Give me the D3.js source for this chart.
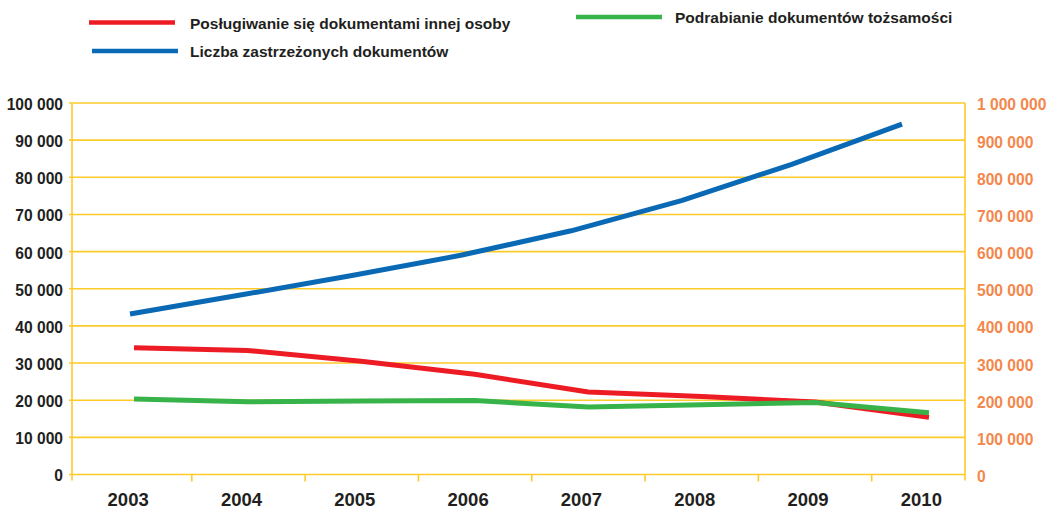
<!DOCTYPE html>
<html>
<head>
<meta charset="utf-8">
<script src="https://cdn.jsdelivr.net/npm/d3@7"></script>
<style>
  body { margin: 0; background: #fff; }
  text { font-family: "Liberation Sans", Arial, sans-serif; font-weight: bold; }
</style>
</head>
<body>
<div id="plot"></div>
<script>
// data
var years = [2003, 2004, 2005, 2006, 2007, 2008, 2009, 2010];
var posługiwanie = [34100, 33400, 30500, 27000, 22200, 21000, 19500, 15400];
var podrabianie = [20300, 19600, 19800, 19900, 18200, 18800, 19400, 16600];
var zastrzezone = [432000, 483000, 535000, 590000, 656000, 737000, 835000, 943000];
var leftTicks = [0, 10000, 20000, 30000, 40000, 50000, 60000, 70000, 80000, 90000, 100000];
var rightTicks = [0, 100000, 200000, 300000, 400000, 500000, 600000, 700000, 800000, 900000, 1000000];

var w = 1048, h = 509;
var padL = 72, padR = 965, padT = 103, padB = 474.5;
var yellow = "#fdcb2a";

var svg = d3.select("#plot").append("svg")
  .attr("width", w)
  .attr("height", h);

var yL = d3.scaleLinear().domain([0, 100000]).range([padB, padT]);
var yR = d3.scaleLinear().domain([0, 1000000]).range([padB, padT]);
// points for red & green
var xP = d3.scalePoint().domain(years).range([134, 929]);
// blue runs a bit shorter in the original
var xB = d3.scalePoint().domain(years).range([130, 902]);
// bands for tick marks under the axis
var xBand = d3.scaleBand().domain(years).range([78.5, 985]);

function fmt(v) {
  return d3.format(",")(v).replace(/,/g, " ");
}

// grid
svg.append("g").selectAll("line")
  .data(leftTicks)
  .enter().append("line")
  .attr("x1", padL - 3).attr("x2", padR)
  .attr("y1", function(d) { return yL(d); })
  .attr("y2", function(d) { return yL(d); })
  .attr("stroke", yellow)
  .attr("stroke-width", 1.6);

// axes lines
svg.append("line").attr("x1", padL).attr("x2", padL).attr("y1", padT).attr("y2", padB + 6)
  .attr("stroke", yellow).attr("stroke-width", 1.6);
svg.append("line").attr("x1", padR).attr("x2", padR).attr("y1", padT).attr("y2", padB + 6)
  .attr("stroke", yellow).attr("stroke-width", 1.6);

// bottom ticks
svg.append("g").selectAll("line")
  .data(years.slice(1))
  .enter().append("line")
  .attr("x1", function(d) { return xBand(d); })
  .attr("x2", function(d) { return xBand(d); })
  .attr("y1", padB).attr("y2", padB + 7)
  .attr("stroke", yellow).attr("stroke-width", 1.6);

// left labels
svg.append("g").selectAll("text")
  .data(leftTicks)
  .enter().append("text")
  .attr("x", 63)
  .attr("y", function(d) { return yL(d) + 1.5; })
  .attr("dy", "0.35em")
  .attr("text-anchor", "end")
  .attr("font-size", "15.6px")
  .attr("fill", "#231f20")
  .text(fmt);

// right labels
svg.append("g").selectAll("text")
  .data(rightTicks)
  .enter().append("text")
  .attr("x", 977)
  .attr("y", function(d) { return yR(d) + 2; })
  .attr("dy", "0.35em")
  .attr("font-size", "15.6px")
  .attr("fill", "#f4874b")
  .text(fmt);

// year labels
svg.append("g").selectAll("text")
  .data(years)
  .enter().append("text")
  .attr("x", function(d) { return xBand(d) + xBand.bandwidth() / 2 - 7; })
  .attr("y", 506)
  .attr("text-anchor", "middle")
  .attr("font-size", "18.5px")
  .attr("fill", "#231f20")
  .text(function(d) { return d; });

// lines
var lineL = d3.line()
  .x(function(d, i) { return xP(years[i]); })
  .y(function(d) { return yL(d); });
var lineB = d3.line()
  .x(function(d, i) { return xB(years[i]); })
  .y(function(d) { return yR(d); });

svg.append("path").datum(zastrzezone)
  .attr("d", lineB)
  .attr("fill", "none").attr("stroke", "#0a69b4")
  .attr("stroke-width", 5).attr("stroke-linejoin", "round");
svg.append("path").datum(posługiwanie)
  .attr("d", lineL)
  .attr("fill", "none").attr("stroke", "#ed1c24")
  .attr("stroke-width", 5).attr("stroke-linejoin", "round");
svg.append("path").datum(podrabianie)
  .attr("d", lineL)
  .attr("fill", "none").attr("stroke", "#37b34a")
  .attr("stroke-width", 5).attr("stroke-linejoin", "round");

// legend
var legend = [
  { name: "Posługiwanie się dokumentami innej osoby", color: "#ed1c24", x: 89, tx: 190, y: 22.5 },
  { name: "Liczba zastrzeżonych dokumentów", color: "#0a69b4", x: 92, tx: 190, y: 51 },
  { name: "Podrabianie dokumentów tożsamości", color: "#37b34a", x: 576, tx: 675, y: 17 }
];
var lg = svg.append("g").selectAll("g")
  .data(legend)
  .enter().append("g");
lg.append("line")
  .attr("x1", function(d) { return d.x; })
  .attr("x2", function(d) { return d.x + 86; })
  .attr("y1", function(d) { return d.y; })
  .attr("y2", function(d) { return d.y; })
  .attr("stroke", function(d) { return d.color; })
  .attr("stroke-width", 4.5);
lg.append("text")
  .attr("x", function(d) { return d.tx; })
  .attr("y", function(d) { return d.y + 6; })
  .attr("font-size", "15.5px")
  .attr("fill", "#231f20")
  .text(function(d) { return d.name; });
</script>
</body>
</html>
